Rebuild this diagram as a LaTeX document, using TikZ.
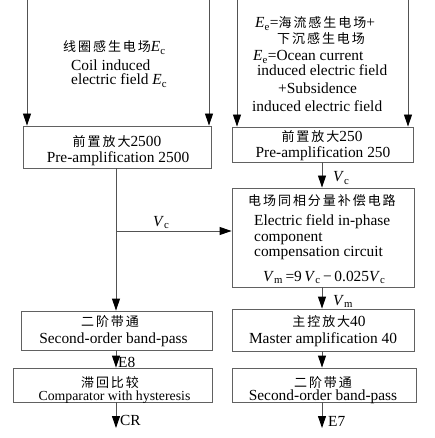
\documentclass[tikz,border=0pt]{standalone}
\usepackage{fontspec}
\setmainfont{Liberation Serif}
\newfontfamily\cjkfam{Noto Sans CJK SC}[LetterSpace=15]
\newcommand\cjk{\cjkfam\fontsize{13}{17}\selectfont}
\usetikzlibrary{arrows.meta}
\newcommand\vsub[2]{\textit{#1}\textsubscript{#2}}
\tikzset{
  ln/.style={draw=black!68, line width=0.9pt},
  arr/.style={ln, -{Triangle[length=12pt,width=8pt,color=black]}},
  box/.style={draw=black!62, line width=0.9pt, inner sep=0pt},
  txt/.style={inner sep=0pt, font=\fontsize{15.4}{18}\selectfont},
  lab/.style={txt, anchor=base west},
  ctr/.style={txt, anchor=base}
}
\begin{document}
\begin{tikzpicture}[x=1pt,y=-1pt]
\useasboundingbox[fill=white] (0,0) rectangle (435,438);

% boxes
\node[box, minimum width=188pt, minimum height=42pt] (pre1) at (117,147) {};
\node[box, minimum width=181pt, minimum height=35pt] (pre2) at (322.5,144.5) {};
\node[box, minimum width=182pt, minimum height=99pt] (comp) at (323,237.5) {};
\node[box, minimum width=191pt, minimum height=39pt] (bp1) at (116.5,330.5) {};
\node[box, minimum width=199pt, minimum height=34pt] (hyst) at (112.5,385) {};
\node[box, minimum width=182pt, minimum height=42pt] (master) at (323,330) {};
\node[box, minimum width=184pt, minimum height=34pt] (bp2) at (324,385) {};

% top-left text
\node[lab] (tl1) at (63,52) {{\cjk 线圈感生电场}\vsub{E}{c}};
\node[lab] (tl2) at (71,71) {Coil induced};
\node[lab] (tl3) at (71,85) {electric field \vsub{E}{c}};

% top-right text
\node[lab] (tr1) at (255,28) {\vsub{E}{e}={\cjk 海流感生电场}+};
\node[lab] (tr2) at (277,43.5) {{\cjk 下沉感生电场}};
\node[lab] (tr3) at (253,61) {\vsub{E}{e}=Ocean current};
\node[lab] (tr4) at (257,76) {induced electric field};
\node[lab] (tr5) at (278,94) {+Subsidence};
\node[lab] (tr6) at (252,112) {induced electric field};

% box texts
\node[ctr] (pre1a) at (117,146.5) {{\cjk 前置放大}2500};
\node[ctr] (pre1b) at (118,163) {Pre-amplification 2500};
\node[ctr] (pre2a) at (322,141.5) {{\cjk 前置放大}250};
\node[ctr] (pre2b) at (323,157.5) {Pre-amplification 250};

\node[lab] (compa) at (248,205) {{\cjk 电场同相分量补偿电路}};
\node[lab] (compb) at (254,225) {Electric field in-phase};
\node[lab] (compc) at (254,241) {component};
\node[lab] (compd) at (254,256.5) {compensation circuit};
\node[lab] (compe) at (263,281.5) {\vsub{V}{m}\,=9\,\vsub{V}{c}\,−\,0.025\vsub{V}{c}};

\node[ctr] (bp1a) at (110,326) {{\cjk 二阶带通}};
\node[ctr] (bp1b) at (113.5,343) {Second-order band-pass};
\node[ctr] (hysta) at (110,387) {{\cjk 滞回比较}};
\node[ctr, font=\fontsize{13.8}{17}\selectfont] (hystb) at (114.5,400) {Comparator with hysteresis};

\node[ctr] (mastera) at (329,326.5) {{\cjk 主控放大}40};
\node[ctr] (masterb) at (323,343) {Master amplification 40};
\node[ctr] (bp2a) at (323,387) {{\cjk 二阶带通}};
\node[ctr] (bp2b) at (323,400) {Second-order band-pass};

% input arrows
\coordinate (inL1) at (27,0);
\coordinate (inL2) at (209,0);
\coordinate (inR1) at (237,0);
\coordinate (inR2) at (408,0);
\draw[arr] (inL1) -- (inL1 |- pre1.north);
\draw[arr] (inL2) -- (inL2 |- pre1.north);
\draw[arr] (inR1) -- (inR1 |- pre2.north);
\draw[arr] (inR2) -- (inR2 |- pre2.north);

% left chain
\coordinate (cl) at (116,0);
\coordinate (br) at (116,231);
\draw[arr] (cl |- pre1.south) -- (cl |- bp1.north);
\draw[arr] (br) -- (br -| comp.west);
\node[lab] (vcl) at (153,226) {\vsub{V}{c}};
\draw[arr] (cl |- bp1.south) -- (cl |- hyst.north);
\node[lab] (e8) at (118,367) {E8};
\coordinate (outL) at (116,428);
\draw[arr] (cl |- hyst.south) -- (outL);
\node[lab] (cr) at (120,425) {CR};

% right chain
\coordinate (cr0) at (322,0);
\draw[arr] (cr0 |- pre2.south) -- (cr0 |- comp.north);
\node[lab] (vcr) at (333,182) {\vsub{V}{c}};
\draw[arr] (cr0 |- comp.south) -- (cr0 |- master.north);
\node[lab] (vm) at (333,305) {\vsub{V}{m}};
\draw[arr] (cr0 |- master.south) -- (cr0 |- bp2.north);
\coordinate (outR) at (322,428);
\draw[arr] (cr0 |- bp2.south) -- (outR);
\node[lab] (e7) at (328,426) {E7};
\end{tikzpicture}
\end{document}
